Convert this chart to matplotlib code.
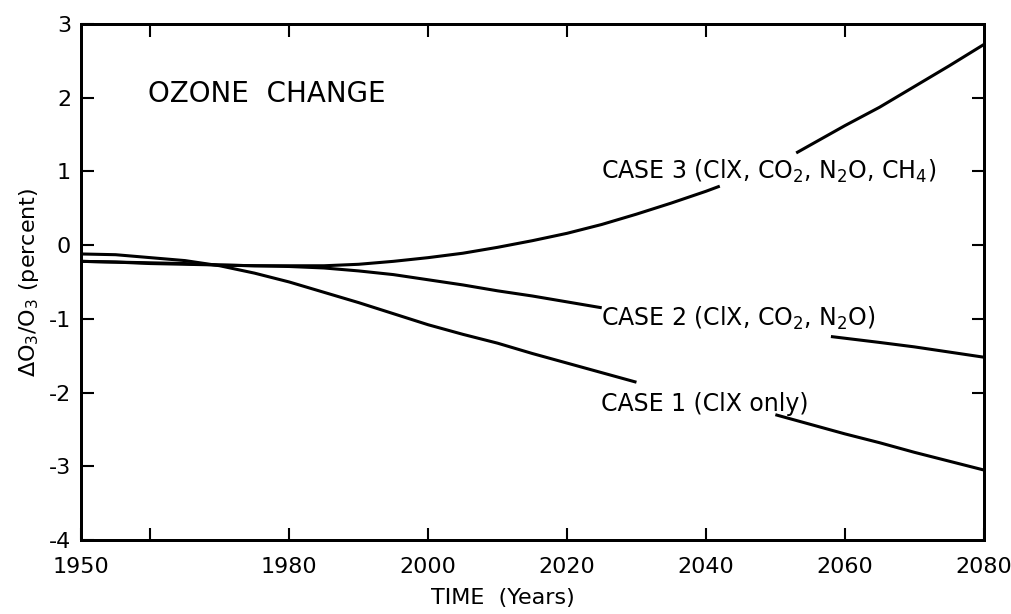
import numpy as np
import matplotlib
matplotlib.use("Agg")
import matplotlib.pyplot as plt

plt.rcParams['font.family'] = ['DejaVu Sans']
plt.rcParams['axes.unicode_minus'] = False

# values (nan = gap left for the label)
years1 = [1950, 1955, 1960, 1965, 1970, 1975, 1980, 1985, 1990, 1995, 2000, 2005,
          2010, 2015, 2020, 2025, 2030, 2040, 2050, 2055, 2060, 2065, 2070, 2075, 2080]
case1 = [-0.12, -0.13, -0.17, -0.21, -0.28, -0.38, -0.50, -0.64, -0.78, -0.93,
         -1.08, -1.21, -1.33, -1.47, -1.60, -1.73, -1.86, np.nan,
         -2.30, -2.43, -2.56, -2.68, -2.81, -2.93, -3.05]

years2 = [1950, 1955, 1960, 1965, 1970, 1975, 1980, 1985, 1990, 1995, 2000, 2005,
          2010, 2015, 2020, 2025, 2040, 2058, 2065, 2070, 2075, 2080]
case2 = [-0.22, -0.23, -0.24, -0.25, -0.27, -0.28, -0.29, -0.31, -0.35, -0.40,
         -0.47, -0.54, -0.62, -0.69, -0.77, -0.85, np.nan,
         -1.24, -1.32, -1.38, -1.45, -1.52]

years3 = [1950, 1955, 1960, 1965, 1970, 1975, 1980, 1985, 1990, 1995, 2000, 2005,
          2010, 2015, 2020, 2025, 2030, 2035, 2040, 2042, 2048, 2053, 2060, 2065,
          2070, 2075, 2080]
case3 = [-0.22, -0.23, -0.25, -0.26, -0.27, -0.28, -0.28, -0.28, -0.26, -0.22,
         -0.17, -0.11, -0.03, 0.06, 0.16, 0.28, 0.42, 0.57, 0.73, 0.80, np.nan,
         1.25, 1.62, 1.87, 2.15, 2.43, 2.72]

labels = ["CASE 1 (ClX only)",
          "CASE 2 (ClX, CO$_2$, N$_2$O)",
          "CASE 3 (ClX, CO$_2$, N$_2$O, CH$_4$)"]

fig = plt.figure(figsize=(10.11, 6.14), dpi=100)
ax = fig.add_axes([0.080, 0.1205, 0.893, 0.8405])

for yrs, vals in [(years1, case1), (years2, case2), (years3, case3)]:
    ax.plot(yrs, vals, color='black', lw=2.2, solid_capstyle='butt')

ax.set_xlim(1950, 2080)
ax.set_ylim(-4, 3)

ax.set_xticks([1950, 1960, 1980, 2000, 2020, 2040, 2060, 2080])
ax.set_xticklabels(['1950', '', '1980', '2000', '2020', '2040', '2060', '2080'])
ax.set_yticks([-4, -3, -2, -1, 0, 1, 2, 3])
ax.tick_params(direction='in', length=9, width=1.5, labelsize=16, pad=7)
ax.tick_params(axis='x', pad=12)

# top and right ticks
axt = ax.twiny()
axt.set_xlim(1950, 2080)
axt.set_xticks([1960, 1980, 2000, 2020, 2040, 2060])
axt.tick_params(direction='in', length=9, width=1.5, labeltop=False)
axr = ax.twinx()
axr.set_ylim(-4, 3)
axr.set_yticks([-2, -1, 0, 1, 2])
axr.tick_params(direction='in', length=9, width=1.5, labelright=False)

for a in [ax, axt, axr]:
    for s in a.spines.values():
        s.set_linewidth(2.0)

ax.set_xlabel("TIME  (Years)", fontsize=16, labelpad=8, x=0.467)
ax.set_ylabel("$\\Delta$O$_3$/O$_3$ (percent)", fontsize=16, labelpad=6)

ax.text(1959.7, 2.05, "OZONE  CHANGE", fontsize=20, va='center', ha='left')
ax.text(2024.9, -2.15, labels[0], fontsize=17, va='center', ha='left')
ax.text(2024.9, -1.0, labels[1], fontsize=17, va='center', ha='left')
ax.text(2024.9, 1.0, labels[2], fontsize=17, va='center', ha='left')

fig.savefig("out.png", dpi=100)
